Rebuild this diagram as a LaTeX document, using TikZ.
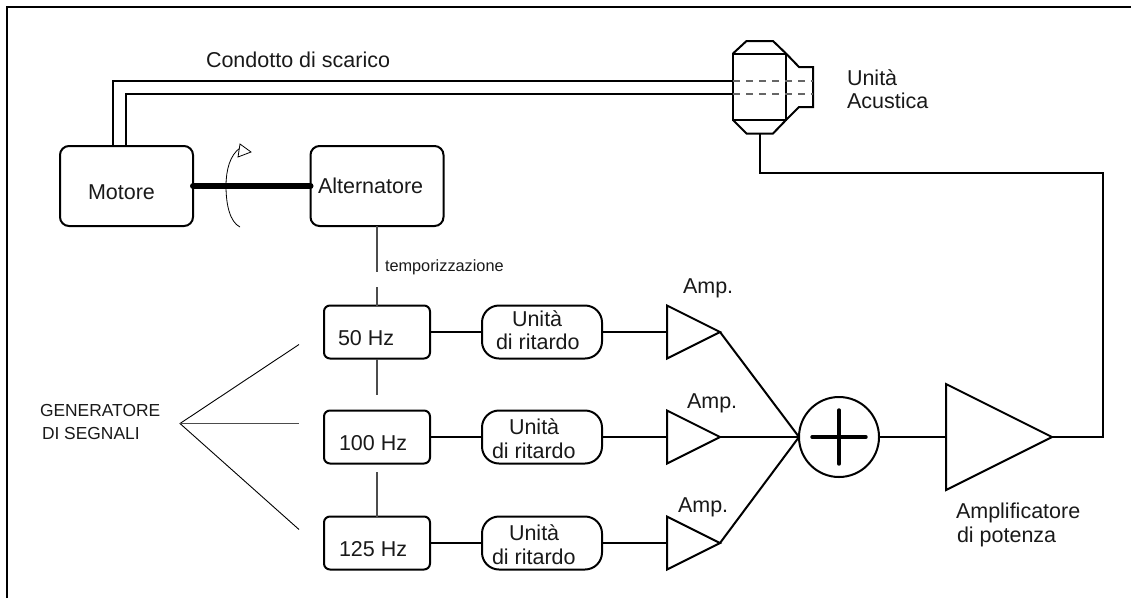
\documentclass[tikz,border=0pt]{standalone}
\usepackage{fontspec}
\setmainfont{Liberation Sans}
\usetikzlibrary{shapes.geometric,arrows.meta}
\tikzset{
  x=1pt,y=-1pt,
  wire/.style={line width=2pt,line join=miter},
  thin wire/.style={line width=1.1pt,draw=black!70},
  bigbox/.style={draw,line width=2pt,rounded corners=9pt,minimum width=133pt,minimum height=80pt,inner sep=0pt,outer sep=0pt},
  freqbox/.style={draw,line width=2pt,rounded corners=6pt,minimum width=106pt,minimum height=53pt,inner sep=0pt,outer sep=0pt},
  delaybox/.style={draw,line width=2pt,rounded corners=17pt,minimum width=120pt,minimum height=53pt,inner sep=0pt,outer sep=0pt},
  amp/.style={draw,line width=2pt,isosceles triangle,isosceles triangle stretches,shape border rotate=0,minimum width=53pt,minimum height=53pt,inner sep=0pt,outer sep=0pt,anchor=apex},
  txt/.style={anchor=base west,inner sep=0pt,outer sep=0pt,font=\fontsize{21.5pt}{24pt}\selectfont,text=black!90},
  smalltxt/.style={txt,font=\fontsize{16.3pt}{18pt}\selectfont},
  captxt/.style={txt,font=\fontsize{17.4pt}{20pt}\selectfont},
}
\begin{document}
\begin{tikzpicture}
\useasboundingbox (0,0) rectangle (1131,598);
% frame
\coordinate (fa) at (7,598); \coordinate (fb) at (7,7); \coordinate (fc) at (1131,7);
\draw[line width=2.6pt] (fa) -- (fb) -- (fc);
% boxes
\node[bigbox] (mot) at (126.5,186) {};
\node[bigbox] (alt) at (377,186) {};
\node[freqbox] (f1) at (377,332) {};
\node[freqbox] (f2) at (377,437) {};
\node[freqbox] (f3) at (377,543) {};
\node[delaybox] (d1) at (542,332) {};
\node[delaybox] (d2) at (542,437) {};
\node[delaybox] (d3) at (542,543) {};
\node[amp] (a1) at (720,332) {};
\node[amp] (a2) at (720,437) {};
\node[amp] (a3) at (720,543) {};
\node[amp,minimum width=106pt,minimum height=106pt] (pa) at (1052,437) {};
\node[draw,circle,line width=2pt,minimum size=80pt,inner sep=0pt,outer sep=0pt] (sum) at (839,437) {};
% sum cross
\draw[line width=3.4pt,line cap=round] (sum.center)+(-27,0) -- +(27,0);
\draw[line width=3.4pt,line cap=round] (sum.center)+(0,-27) -- +(0,27);
% acoustic unit
\coordinate (u1) at (733,53.5); \coordinate (u2) at (786,53.5);
\coordinate (u3) at (786,120);  \coordinate (u4) at (733,120);
\coordinate (ub) at (759.5,133.5);
\draw[wire] (u1) -- (u2) -- (u3) -- (u4) -- cycle;
\draw[wire] (u1) -- (746.5,41) -- (773,41) -- (u2);
\draw[wire] (u4) -- (746.5,133.5) -- (773,133.5) -- (u3);
\draw[wire] (u2) -- (799,67) -- (813,67) -- (813,107) -- (799,107) -- (u3);
\draw[line width=1.1pt,draw=black!60,dash pattern=on 7pt off 6pt] (733,81) -- (813,81);
\draw[line width=1.1pt,draw=black!60,dash pattern=on 7pt off 6pt] (733,94) -- (813,94);
% exhaust duct
\coordinate (e1) at (113,146); \coordinate (e2) at (126,146);
\draw[wire] (e1) -- (113,81) -- (733,81);
\draw[wire] (e2) -- (126,94) -- (733,94);
% shaft
\draw[line width=6pt,line cap=round] (mot.east) -- (alt.west);
% rotation arrow
\coordinate (r1) at (240,227); \coordinate (r2) at (240,148);
\draw[line width=0.8pt] (r1) .. controls (230,222) and (226,205) .. (226,186) .. controls (226,170) and (230,155) .. (r2);
\coordinate (h1) at (240,144); \coordinate (h2) at (251,152); \coordinate (h3) at (238,157);
\draw[line width=0.8pt,fill=white] (h1) -- (h2) -- (h3) -- cycle;
% timing
\coordinate (t1) at (377,272); \coordinate (t2) at (377,287);
\coordinate (t3) at (377,395); \coordinate (t4) at (377,472);
\draw[thin wire] (377,226) -- (t1);
\draw[thin wire] (t2) -- (f1.north);
\draw[thin wire] (f1.south) -- (t3);
\draw[thin wire] (t4) -- (f3.north);
% signal chain
\foreach \i in {1,2,3}{
  \draw[wire] (f\i.east) -- (d\i.west);
  \draw[wire] (d\i.east) -- (a\i.lower side);
  \draw[wire] (a\i.apex) -- (sum.west);
}
\draw[wire] (sum.east) -- (pa.lower side);
\coordinate (c1) at (1103,437); \coordinate (c2) at (1103,173); \coordinate (c3) at (759.5,173);
\draw[wire] (pa.apex) -- (c1) -- (c2) -- (c3) -- (ub);
% generator fan
\coordinate (g0) at (180,423.5); \coordinate (g1) at (299,344.5);
\coordinate (g2) at (299,423.5); \coordinate (g3) at (299,529.5);
\draw[line width=0.9pt] (g1) -- (g0) -- (g3);
\draw[thin wire] (g0) -- (g2);
% labels
\node[txt] (l1) at (206,67) {Condotto di scarico};
\node[txt] (l2) at (847,85) {Unità};
\node[txt] (l3) at (847,108) {Acustica};
\node[txt] (l4) at (88,199) {Motore};
\node[txt] (l5) at (318,193) {Alternatore};
\node[smalltxt] (l6) at (385,271) {temporizzazione};
\node[txt] (l7) at (338,345) {50 Hz};
\node[txt] (l8) at (339,450) {100 Hz};
\node[txt] (l9) at (339,556) {125 Hz};
\node[txt] (l10) at (512,326) {Unità};
\node[txt] (l11) at (496,349) {di ritardo};
\node[txt] (l12) at (509,434) {Unità};
\node[txt] (l13) at (492,458) {di ritardo};
\node[txt] (l14) at (509,540) {Unità};
\node[txt] (l15) at (492,564) {di ritardo};
\node[txt] (l16) at (683,293) {Amp.};
\node[txt] (l17) at (687,408) {Amp.};
\node[txt] (l18) at (678,512) {Amp.};
\node[captxt] (l19) at (40,416) {GENERATORE};
\node[captxt] (l20) at (42,439) {DI SEGNALI};
\node[txt] (l21) at (956,518) {Amplificatore};
\node[txt] (l22) at (957,542) {di potenza};
\end{tikzpicture}
\end{document}
